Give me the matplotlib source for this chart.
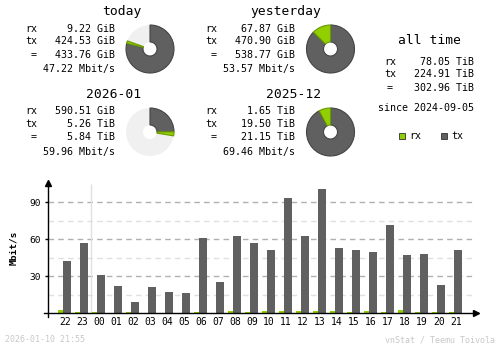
import numpy as np
import matplotlib.pyplot as plt
from matplotlib.patches import Wedge, Rectangle

# hourly averages in Mbit/s
hours = ['22', '23', '00', '01', '02', '03', '04', '05', '06', '07', '08', '09',
         '10', '11', '12', '13', '14', '15', '16', '17', '18', '19', '20', '21']
rx_rate = [2.6, 1.0, 1.0, 0.3, 1.0, 0.3, 0.3, 0.3, 1.0, 0.3, 1.7, 1.0,
           2.0, 2.0, 2.0, 2.0, 2.0, 1.0, 2.0, 1.0, 2.7, 1.0, 1.0, 1.0]
tx_rate = [42.4, 57.0, 31.0, 22.0, 9.0, 21.0, 17.0, 16.5, 61.0, 25.5, 62.7, 57.0,
           51.3, 93.5, 62.7, 101.0, 53.0, 51.3, 49.7, 71.6, 47.3, 48.1, 23.0, 51.3]

# traffic summaries (GiB)
TIB = 1024.0
periods = ['today', 'yesterday', '2026-01', '2025-12']
rx_vol = [9.22, 67.87, 590.51, 1.65 * TIB]
tx_vol = [424.53, 470.90, 5.26 * TIB, 19.50 * TIB]
rx_txt = ['9.22 GiB', '67.87 GiB', '590.51 GiB', '1.65 TiB']
tx_txt = ['424.53 GiB', '470.90 GiB', '5.26 TiB', '19.50 TiB']
tot_txt = ['433.76 GiB', '538.77 GiB', '5.84 TiB', '21.15 TiB']
rate_txt = ['47.22 Mbit/s', '53.57 Mbit/s', '59.96 Mbit/s', '69.46 Mbit/s']
alltime = ['78.05 TiB', '224.91 TiB', '302.96 TiB']
since = '2024-09-05'

RX = '#92cf00'
TX = '#606060'
RXD = '#6a9a00'
TXD = '#454545'
MONO = 'DejaVu Sans Mono'

fig = plt.figure(figsize=(5, 3.48), dpi=100)
ov = fig.add_axes([0, 0, 1, 1])
ov.set_xlim(0, 500)
ov.set_ylim(348, 0)
ov.axis('off')

# block layout: (title x, title y, label x, value right x, row ys, pie centre)
blocks = [
    (122, 12, 25, 115, [29, 41, 55, 69], (150, 49)),
    (286, 12, 205, 295, [29, 41, 55, 69], (330.5, 49)),
    (113.5, 94, 25, 115, [111, 124, 137, 152], (150, 132)),
    (293.5, 94, 205, 295, [111, 124, 137, 152], (330.5, 132)),
]
tot_vol = [r + t for r, t in zip(rx_vol, tx_vol)]

for i, (tx_, ty, lx, vx, rows, c) in enumerate(blocks):
    ov.text(tx_, ty, periods[i], ha='center', va='center', fontsize=9.4, family=MONO)
    ov.text(lx, rows[0], 'rx', va='center', fontsize=7.2, family=MONO)
    ov.text(lx, rows[1], 'tx', va='center', fontsize=7.2, family=MONO)
    ov.text(lx + 6, rows[2], '=', va='center', fontsize=7.2, family=MONO)
    for y, s in zip(rows, [rx_txt[i], tx_txt[i], tot_txt[i], rate_txt[i]]):
        ov.text(vx, y, s, ha='right', va='center', fontsize=7.2, family=MONO)

    # ring scaled against the larger of the pair (today/yesterday, month/month)
    ref = max(tot_vol[i - i % 2], tot_vol[i - i % 2 + 1])
    a_tx = 360 * tx_vol[i] / ref
    a_rx = 360 * rx_vol[i] / ref
    ov.add_patch(Wedge(c, 24, 0, 360, width=17, facecolor='#f0f0f0', edgecolor='none'))
    ov.add_patch(Wedge(c, 24, -90, -90 + a_tx, width=17, facecolor=TX,
                       edgecolor=TXD, linewidth=0.8))
    ov.add_patch(Wedge(c, 24, -90 + a_tx, -90 + a_tx + a_rx, width=17, facecolor=RX,
                       edgecolor=RXD, linewidth=0.8))

# all time column
ov.text(429, 40, 'all time', ha='center', va='center', fontsize=9.4, family=MONO)
for y, lab, val in zip([62, 74, 88], ['rx', 'tx', ''], alltime):
    ov.text(384, y, lab, va='center', fontsize=7.2, family=MONO)
    ov.text(474, y, val, ha='right', va='center', fontsize=7.2, family=MONO)
ov.text(387, 88, '=', va='center', fontsize=7.2, family=MONO)
ov.text(474, 108, 'since ' + since, ha='right', va='center', fontsize=7.2, family=MONO)

# legend
ov.add_patch(Rectangle((399, 133), 6, 6, facecolor=RX, edgecolor='#303030', linewidth=0.6))
ov.text(409, 136, 'rx', va='center', fontsize=7.2, family=MONO)
ov.add_patch(Rectangle((441, 133), 6, 6, facecolor=TX, edgecolor='#303030', linewidth=0.6))
ov.text(451, 136, 'tx', va='center', fontsize=7.2, family=MONO)

# footer
ov.text(5, 340, '2026-01-10 21:55', va='center', fontsize=6, family=MONO, color='#c8c8c8')
ov.text(495, 340, 'vnStat / Teemu Toivola', ha='right', va='center', fontsize=6,
        family=MONO, color='#c8c8c8')

# hourly bar chart
ax = fig.add_axes([48 / 500, (348 - 313.3) / 348, 430 / 500, (313.3 - 182) / 348])
ax.patch.set_alpha(0)
ymax = (313.3 - 182) / 1.2333
ax.set_xlim(-1, (478 - 65) / 17)
ax.set_ylim(0, ymax)
for s in ax.spines.values():
    s.set_visible(False)

xr = (473 - 65) / 17
for v in [15, 45, 75]:
    ax.hlines(v, -1, xr, colors='#e0e0e0', linestyles=(0, (4, 3)), linewidth=1, zorder=0)
for v in [30, 60, 90]:
    ax.hlines(v, -1, xr, colors='#b0b0b0', linestyles=(0, (4, 3)), linewidth=1, zorder=0)
ax.vlines(1.5, 0, 104.8, colors='#e0e0e0', linewidth=1, zorder=0)

x = np.arange(len(hours))
ax.bar(x - 0.41, rx_rate, width=0.28, align='edge', color=RX, zorder=2)
ax.bar(x - 0.135, tx_rate, width=0.49, align='edge', color=TX, zorder=2)

# axis lines with arrow heads
ax.plot([-1.24, (478 - 65) / 17], [0, 0], color='black', linewidth=1.0, clip_on=False, zorder=3)
ax.plot([(476 - 65) / 17], [0], marker='>', color='black', markersize=4, clip_on=False, zorder=3)
ax.plot([-1, -1], [-2.8, ymax], color='black', linewidth=1.0, clip_on=False, zorder=3)
ax.plot([-1], [ymax - 1], marker='^', color='black', markersize=4, clip_on=False, zorder=3)

ax.set_xticks(x)
ax.set_xticklabels(hours, fontsize=7, family=MONO)
ax.set_yticks([30, 60, 90])
ax.set_yticklabels(['30', '60', '90'], fontsize=6.8, family=MONO)
ax.tick_params(axis='x', length=0, pad=3)
ax.tick_params(axis='y', length=2, width=1, pad=3, direction='out')
ax.set_ylabel('Mbit/s', fontsize=6.8, family=MONO, fontweight='bold', labelpad=8)

fig.savefig('out.png', dpi=100)
